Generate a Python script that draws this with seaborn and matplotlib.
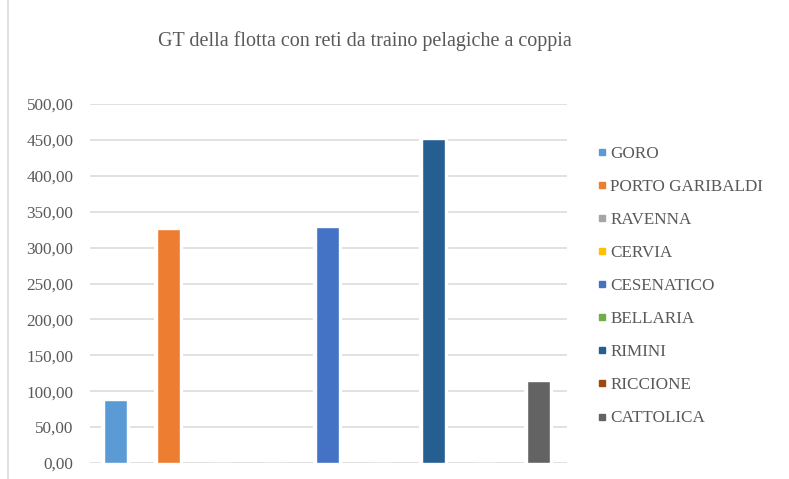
import matplotlib
matplotlib.use("Agg")
import matplotlib.pyplot as plt
import matplotlib.patheffects as pe
from matplotlib.font_manager import FontProperties
from matplotlib.lines import Line2D
from matplotlib.ticker import FuncFormatter, MultipleLocator
import seaborn as sns
import pandas as pd

# Gross tonnage by port
ports = ["GORO", "PORTO GARIBALDI", "RAVENNA", "CERVIA", "CESENATICO",
         "BELLARIA", "RIMINI", "RICCIONE", "CATTOLICA"]
gt_values = [88, 326, 0, 0, 328, 0, 451, 0, 114]
colors = ["#5B9BD5", "#ED7D31", "#A5A5A5", "#FFC000", "#4472C4",
          "#70AD47", "#255E91", "#9E480E", "#636363"]
title = "GT della flotta con reti da traino pelagiche a coppia"

df = pd.DataFrame({"porto": ports, "gt": gt_values})

sns.set_theme(style="white")
serif = ["Liberation Serif", "DejaVu Serif"]
plt.rcParams["font.family"] = serif
text_color = "#595959"
grid_color = "#D9D9D9"

fig = plt.figure(figsize=(7.89, 4.79), dpi=100)
ax = fig.add_axes([90 / 789, 1 - 463 / 479, (567 - 90) / 789, (463 - 104) / 479])

sns.barplot(data=df, x="porto", y="gt", hue="porto", palette=colors,
            order=ports, hue_order=ports, dodge=False, legend=False,
            width=0.435, saturation=1, ax=ax, zorder=3)

# white halo around non-empty bars so the gridlines break around them
for patch in ax.patches:
    if patch.get_height() > 0:
        patch.set_path_effects([pe.Stroke(linewidth=4.5, foreground="white"),
                                pe.Normal()])

ax.set_xlim(-0.49, 8.53)
ax.set_ylim(0, 500)
ax.yaxis.set_major_locator(MultipleLocator(50))
ax.yaxis.set_major_formatter(FuncFormatter(lambda v, p: f"{v:.2f}".replace(".", ",")))
ax.grid(axis="y", color=grid_color, linewidth=1.1, zorder=0)
ax.set_axisbelow(True)
for s in ax.spines.values():
    s.set_visible(False)
ax.set_xticks([])
ax.set_xlabel("")
ax.set_ylabel("")
ax.tick_params(axis="y", length=0, pad=12, labelsize=12.3, labelcolor=text_color)
for lbl in ax.get_yticklabels():
    lbl.set_fontfamily(serif)

fig.text(365 / 789, 1 - 41 / 479, title, ha="center", va="center",
         fontsize=14.5, color=text_color, family=serif)

handles = [Line2D([0], [0], marker="s", linestyle="none", markersize=4.5,
                  markerfacecolor=c, markeredgecolor=c) for c in colors]
leg = fig.legend(handles, ports, loc="upper left",
                 bbox_to_anchor=(590 / 789, 1 - 139 / 479), frameon=False,
                 prop=FontProperties(family=serif, size=12.3),
                 labelspacing=1.0, handlelength=0.6,
                 handletextpad=0.2, borderaxespad=0)
for t in leg.get_texts():
    t.set_color(text_color)

# chart frame edge on the left
fig.add_artist(Line2D([8 / 789, 8 / 789], [0, 1], color=grid_color,
                      linewidth=1.2, transform=fig.transFigure))

fig.savefig("out.png", dpi=100, facecolor="white")
